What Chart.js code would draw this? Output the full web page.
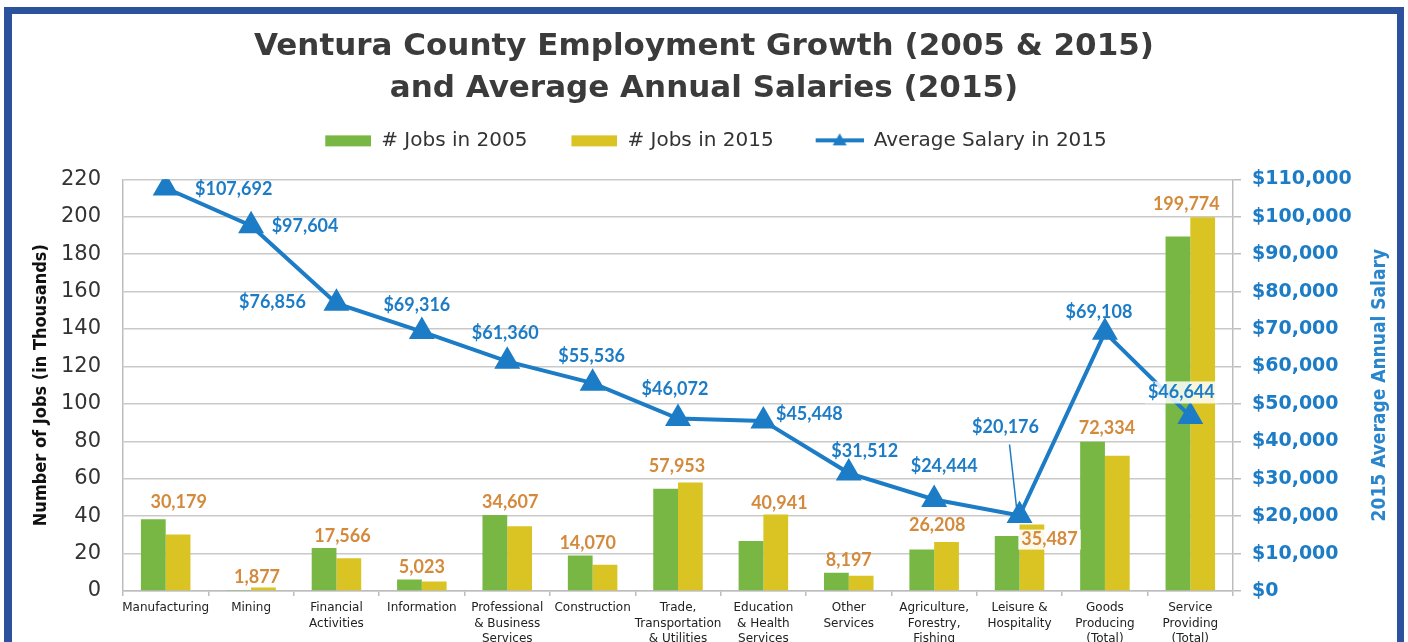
<!DOCTYPE html>
<html>
<head>
<meta charset="utf-8">
<script src="https://cdn.jsdelivr.net/npm/chart.js@4"></script>
<style>
  html, body { margin: 0; padding: 0; background: #fff; }
  #wrap { width: 1408px; height: 642px; }
</style>
</head>
<body>
<div id="wrap"><canvas id="chart"></canvas></div>
<script>
const categories = [
  ["Manufacturing"], ["Mining"], ["Financial", "Activities"], ["Information"],
  ["Professional", "& Business", "Services"], ["Construction"],
  ["Trade,", "Transportation", "& Utilities"], ["Education", "& Health", "Services"],
  ["Other", "Services"], ["Agriculture,", "Forestry,", "Fishing"],
  ["Leisure &", "Hospitality"], ["Goods", "Producing", "(Total)"], ["Service", "Providing", "(Total)"]
];
// thousands of jobs
const jobs2005 = [38.3, 0.6, 23.0, 6.2, 40.6, 19.0, 54.6, 26.7, 9.8, 22.2, 29.4, 79.8, 189.5];
const jobs2015 = [30.179, 1.877, 17.566, 5.023, 34.607, 14.070, 57.953, 40.941, 8.197, 26.208, 35.487, 72.334, 199.774];
const salary2015 = [107692, 97604, 76856, 69316, 61360, 55536, 46072, 45448, 31512, 24444, 20176, 69108, 46644];

const jobAxisMax = 220, jobAxisStep = 20;
const salaryAxisMax = 110000, salaryAxisStep = 10000;

// label nudges in px (dx, dy) - from group centre / bar top, and from line point
const jobLabelShift = [[13,-17],[6,-10],[6,-12],[0,-12],[3,-13],[-5,-12],[-1,-16],[16,-11],[0,-12],[3,-17],[30,15],[2,-13],[-4,-13]];
const salaryLabelShift = [[68,1],[54,0],[-64,-1],[-5,-26],[-2,-28],[-1,-27],[-3,-29],[46,-7],[16,-22],[10,-33],[-14,-88],[-6,-20],[-9,-24]];

const GREEN = "#78b743", YELLOW = "#d9c424", BLUE = "#1c7cc6", ORANGE = "#d48a3c";

function swatch(kind, color) {
  const c = document.createElement("canvas");
  c.width = 70; c.height = 18;
  const g = c.getContext("2d");
  g.fillStyle = color; g.strokeStyle = color;
  if (kind === "box") {
    g.fillRect(24, 4, 46, 11);
  } else {
    g.lineWidth = 4;
    g.beginPath(); g.moveTo(22, 9); g.lineTo(70, 9); g.stroke();
    g.beginPath(); g.moveTo(46, 2); g.lineTo(53, 14); g.lineTo(39, 14); g.closePath(); g.fill();
  }
  return c;
}
const legendIcons = [swatch("box", GREEN), swatch("box", YELLOW), swatch("line", BLUE)];

const decorations = {
  id: "decorations",
  beforeDraw(chart) {
    const ctx = chart.ctx;
    ctx.save();
    ctx.fillStyle = "#fff";
    ctx.fillRect(0, 0, chart.width, chart.height);
    ctx.restore();
  },
  afterDatasetsDraw(chart) {
    const ctx = chart.ctx;
    const x = chart.scales.x, y = chart.scales.y, y2 = chart.scales.y2;
    ctx.save();
    ctx.textAlign = "center";
    ctx.textBaseline = "middle";
    ctx.font = "bold 18px Lato";

    jobs2015.forEach((v, i) => {
      const cx = x.getPixelForValue(i) + jobLabelShift[i][0];
      const cy = y.getPixelForValue(Math.max(v, jobs2005[i])) + jobLabelShift[i][1];
      const text = Math.round(v * 1000).toLocaleString("en-US");
      if (i === 10) {
        const w = ctx.measureText(text).width;
        ctx.fillStyle = "rgba(255,255,255,0.9)";
        ctx.fillRect(cx - w / 2 - 3, cy - 10, w + 6, 20);
      }
      ctx.fillStyle = ORANGE;
      ctx.fillText(text, cx, cy);
    });

    salary2015.forEach((v, i) => {
      const px = x.getPixelForValue(i), py = y2.getPixelForValue(v);
      const cx = px + salaryLabelShift[i][0], cy = py + salaryLabelShift[i][1];
      const text = "$" + v.toLocaleString("en-US");
      const w = ctx.measureText(text).width;
      if (i === 12) {
        ctx.fillStyle = "rgba(255,255,255,0.85)";
        ctx.fillRect(cx - w / 2 - 3, cy - 11, w + 6, 22);
      }
      if (i === 10) {
        ctx.strokeStyle = BLUE; ctx.lineWidth = 1.5;
        ctx.beginPath(); ctx.moveTo(cx + 4, cy + 17); ctx.lineTo(px - 3, py - 8); ctx.stroke();
      }
      ctx.fillStyle = BLUE;
      ctx.fillText(text, cx, cy);
    });
    ctx.restore();
  },
  afterDraw(chart) {
    const ctx = chart.ctx, area = chart.chartArea;
    ctx.save();
    ctx.translate(1380, (area.top + area.bottom) / 2);
    ctx.rotate(-Math.PI / 2);
    ctx.textAlign = "center";
    ctx.textBaseline = "middle";
    ctx.font = "bold 19px 'DejaVu Sans Condensed'";
    ctx.fillStyle = "#2a86cc";
    ctx.fillText("2015 Average Annual Salary", 0, 0);
    ctx.restore();
    // frame
    ctx.save();
    ctx.fillStyle = "#2c529e";
    ctx.fillRect(4, 7, 1400, 7);
    ctx.fillRect(4, 7, 8, chart.height);
    ctx.fillRect(1397, 7, 7, chart.height);
    ctx.restore();
  }
};

new Chart(document.getElementById("chart"), {
  data: {
    labels: categories,
    datasets: [
      { type: "bar", label: "# Jobs in 2005", data: jobs2005, backgroundColor: GREEN, yAxisID: "y", order: 2 },
      { type: "bar", label: "# Jobs in 2015", data: jobs2015, backgroundColor: YELLOW, yAxisID: "y", order: 2 },
      {
        type: "line", label: "Average Salary in 2015", data: salary2015, yAxisID: "y2", order: 0,
        borderColor: BLUE, backgroundColor: BLUE, borderWidth: 4, tension: 0,
        pointStyle: "triangle", pointRadius: 11, pointBackgroundColor: BLUE, pointBorderColor: BLUE
      }
    ]
  },
  options: {
    responsive: true,
    maintainAspectRatio: false,
    animation: false,
    categoryPercentage: 0.58,
    barPercentage: 1,
    layout: { padding: 0 },
    plugins: {
      tooltip: { enabled: false },
      title: {
        display: true,
        text: ["Ventura County Employment Growth (2005 & 2015)", "and Average Annual Salaries (2015)"],
        color: "#3b3b3b",
        font: { family: "DejaVu Sans", weight: "bold", size: 31, lineHeight: 1.36 },
        padding: { top: 26, bottom: 0 }
      },
      // empty spacer between legend and plot
      subtitle: {
        display: true, text: "", weight: 0,
        font: { size: 1, lineHeight: 1 },
        padding: { top: 18, bottom: 0 }
      },
      legend: {
        display: true,
        labels: {
          sort: (a, b) => a.datasetIndex - b.datasetIndex,
          usePointStyle: true,
          pointStyleWidth: 70,
          padding: 20,
          color: "#333",
          font: { family: "DejaVu Sans", size: 20 },
          generateLabels(chart) {
            return Chart.defaults.plugins.legend.labels.generateLabels(chart).map(item => {
              item.pointStyle = legendIcons[item.datasetIndex];
              return item;
            });
          }
        }
      }
    },
    scales: {
      x: {
        grid: { display: true, drawOnChartArea: false, drawTicks: true, tickLength: 5, color: "#bdbdbd", lineWidth: 1.5 },
        border: { display: true, color: "#bdbdbd", width: 1.5 },
        ticks: { color: "#222", maxRotation: 0, autoSkip: false, padding: 4, font: { family: "DejaVu Sans", size: 12, lineHeight: 1.3 } },
        afterFit(scale) { scale.height = 51; }
      },
      y: {
        position: "left",
        min: 0, max: jobAxisMax,
        ticks: { stepSize: jobAxisStep, autoSkip: false, color: "#333", padding: 22, font: { family: "DejaVu Sans", size: 21 } },
        grid: { color: "#c9c9c9", lineWidth: 1.5, drawTicks: false },
        border: { display: true, color: "#bdbdbd", width: 1.5 },
        title: {
          display: true, text: "Number of Jobs (in Thousands)", color: "#111",
          font: { family: "DejaVu Sans Condensed", weight: "bold", size: 18 }, padding: { top: 31, bottom: 0 }
        },
        afterFit(scale) { scale.width = 123; }
      },
      y2: {
        position: "right",
        min: 0, max: salaryAxisMax,
        ticks: {
          stepSize: salaryAxisStep, autoSkip: false, color: BLUE, padding: 11,
          font: { family: "DejaVu Sans", weight: "bold", size: 19 },
          callback: v => "$" + v.toLocaleString("en-US")
        },
        grid: { drawOnChartArea: false, drawTicks: true, tickLength: 8, color: "#bdbdbd", lineWidth: 1.5 },
        border: { display: true, color: "#bdbdbd", width: 1.5 },
        afterFit(scale) { scale.width = 175; }
      }
    }
  },
  plugins: [decorations]
});
</script>
</body>
</html>
